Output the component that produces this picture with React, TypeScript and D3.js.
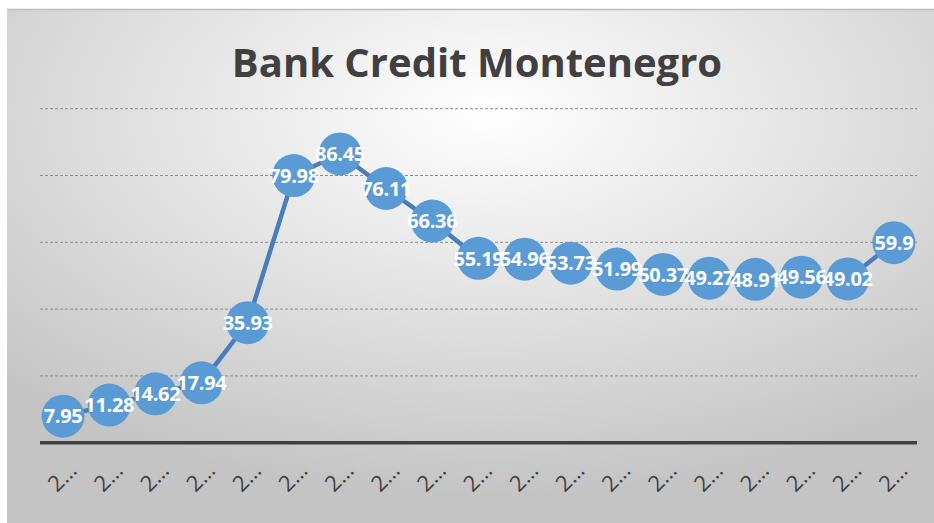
import React from "react";
import * as d3 from "d3";

const years = ["2001","2002","2003","2004","2005","2006","2007","2008","2009","2010","2011","2012","2013","2014","2015","2016","2017","2018","2019"];
const values = [7.95, 11.28, 14.62, 17.94, 35.93, 79.98, 86.45, 76.11, 66.36, 55.19, 54.96, 53.73, 51.99, 50.37, 49.27, 48.91, 49.56, 49.02, 59.9];
const yTicks = [20, 40, 60, 80, 100];
const title = "Bank Credit Montenegro";

const W = 934, H = 523;
const plotL = 40, plotR = 917, plotT = 108.7, plotB = 442.7;

export default function App() {
  const x = d3.scalePoint<string>().domain(years).range([plotL, plotR]).padding(0.5);
  const y = d3.scaleLinear().domain([0, 100]).range([plotB, plotT]);
  const line = d3.line<number>().x((_, i) => x(years[i]) as number).y((d) => y(d));
  const font = "'Open Sans', sans-serif";
  return (
    <svg width={W} height={H} style={{ position: "absolute", left: 0, top: 0 }}>
      <defs>
        <radialGradient id="bg" cx="52%" cy="20%" r="75%" gradientUnits="objectBoundingBox">
          <stop offset="0%" stopColor="#ffffff" />
          <stop offset="100%" stopColor="#c4c4c4" />
        </radialGradient>
      </defs>
      <rect x={0} y={0} width={W} height={H} fill="#ffffff" />
      <rect x={7} y={9} width={W - 7} height={H - 9} fill="url(#bg)" />
      <line x1={7} x2={W} y1={9.5} y2={9.5} stroke="#bdbdbd" strokeWidth={1.5} />
      <text x={477} y={76.5} textAnchor="middle" fontFamily={font} fontWeight={700} fontSize={40} fill="#404040">{title}</text>
      {yTicks.map((t) => (
        <line key={t} x1={plotL} x2={plotR} y1={y(t)} y2={y(t)} stroke="#8c8c8c" strokeWidth={1} strokeDasharray="3,2" />
      ))}
      <line x1={plotL} x2={plotR} y1={plotB} y2={plotB} stroke="#404040" strokeWidth={3.5} />
      {years.map((yr) => {
        const cx = x(yr) as number;
        return (
          <text key={yr} transform={`translate(${cx + 15},${472}) rotate(-45)`} textAnchor="end" fontFamily={font} fontSize={22} fill="#404040">
            {yr.slice(0, 1) + "…"}
          </text>
        );
      })}
      <path d={line(values) || ""} fill="none" stroke="#4a7ebb" strokeWidth={4.5} strokeLinejoin="round" />
      {values.map((v, i) => (
        <circle key={i} cx={x(years[i]) as number} cy={y(v)} r={21.5} fill="#5b9bd5" />
      ))}
      {values.map((v, i) => (
        <text key={"l" + i} x={x(years[i]) as number} y={y(v)} dy="0.36em" textAnchor="middle" fontFamily={font} fontWeight={700} fontSize={20} letterSpacing={-0.3} fill="#ffffff">
          {String(v)}
        </text>
      ))}
    </svg>
  );
}
